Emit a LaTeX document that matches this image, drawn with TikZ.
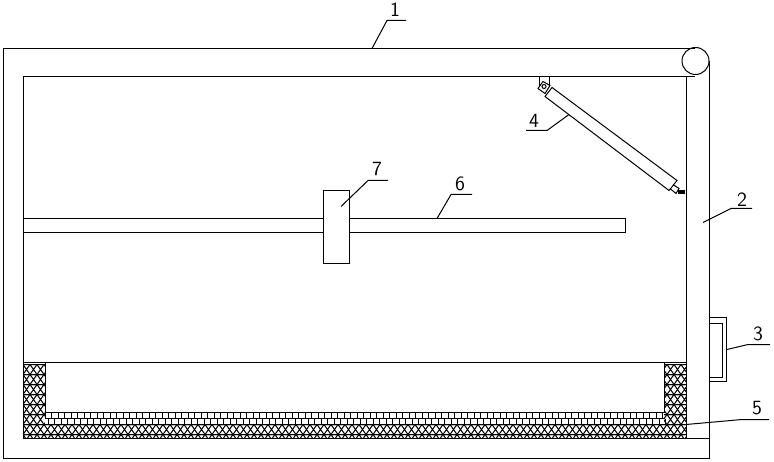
\documentclass[tikz,border=0pt]{standalone}
\usepackage{fontspec}
\begin{document}
\begin{tikzpicture}[x=0.02cm,y=-0.02cm,line width=0.02cm,
numlabel/.style={inner sep=0pt,font=\sffamily\fontsize{11.5}{12}\selectfont}]
\useasboundingbox (0,-0.5) rectangle (774,461.5);
\fill[white] (0,-0.5) rectangle (774,461.5);
% frame
\draw (695,48)--(3,48)--(3,458)--(709,458)--(709,61);
\draw (23,76) rectangle (686,438);
\draw (686,76)--(695,76);
\draw (686,438)--(709,438);
\node[circle,draw,minimum size=0.54cm,inner sep=0pt] (roller) at (695.5,60.5) {};
% filter layer
\begin{scope}
\clip (23,362)--(45,362)--(45,412)--(664,412)--(664,362)--(686,362)--(686,438)--(23,438)--cycle;
\foreach \y in {364,374,...,434}
\foreach \x in {23,30,...,686}
{\draw (\x,\y)--(\x+7,\y)--(\x+3.5,\y+5)--cycle;
\draw (\x,\y+10)--(\x+7,\y+10)--(\x+3.5,\y+5)--cycle;}
\fill[white] (45,412) rectangle (664,424);
\foreach \x in {45,51.5,...,664}
\draw (\x,412)--(\x,418) (\x+3,418)--(\x+3,424);
\draw (45,418)--(664,418);
\draw (45,424)--(664,424);
\end{scope}
\draw (45,362)--(45,412)--(664,412)--(664,362);
\draw (23,362)--(686,362);
% bar and slider
\draw (23,218)--(625,218)--(625,232)--(23,232);
\draw[fill=white] (323,190) rectangle (349,263);
% cylinder
\draw (552,87)--(677,180)--(669,190)--(545,96)--cycle;
\draw (539,76)--(539,86);
\draw (549,76)--(549,85);
\draw (543,81)--(550,85)--(545,93)--(538,88)--cycle;
\draw (544,86) circle (2);
\draw (673,184)--(679,188)--(676,193)--(670,188);
\fill (678,190) rectangle (685,194);
% handle
\draw (709,317)--(726,317)--(726,381)--(709,381);
\draw (709,323)--(722,323)--(722,377)--(709,377);
% leaders
\draw (372,48)--(387,20)--(406,20);
\draw (703,222)--(731,208)--(752,208);
\draw (727,349)--(748,344)--(770,344);
\draw (569,114)--(547,130)--(526,130);
\draw (686,424)--(742,419)--(769,419);
\draw (437,218)--(451,194)--(472,194);
\draw (341,206)--(368,180)--(388,180);
\node[numlabel] (no1) at (395,9.5) {1};
\node[numlabel] (no2) at (742,199) {2};
\node[numlabel] (no3) at (758,333) {3};
\node[numlabel] (no4) at (534,120) {4};
\node[numlabel] (no5) at (757,408) {5};
\node[numlabel] (no6) at (460,183) {6};
\node[numlabel] (no7) at (377,168) {7};
\end{tikzpicture}
\end{document}
